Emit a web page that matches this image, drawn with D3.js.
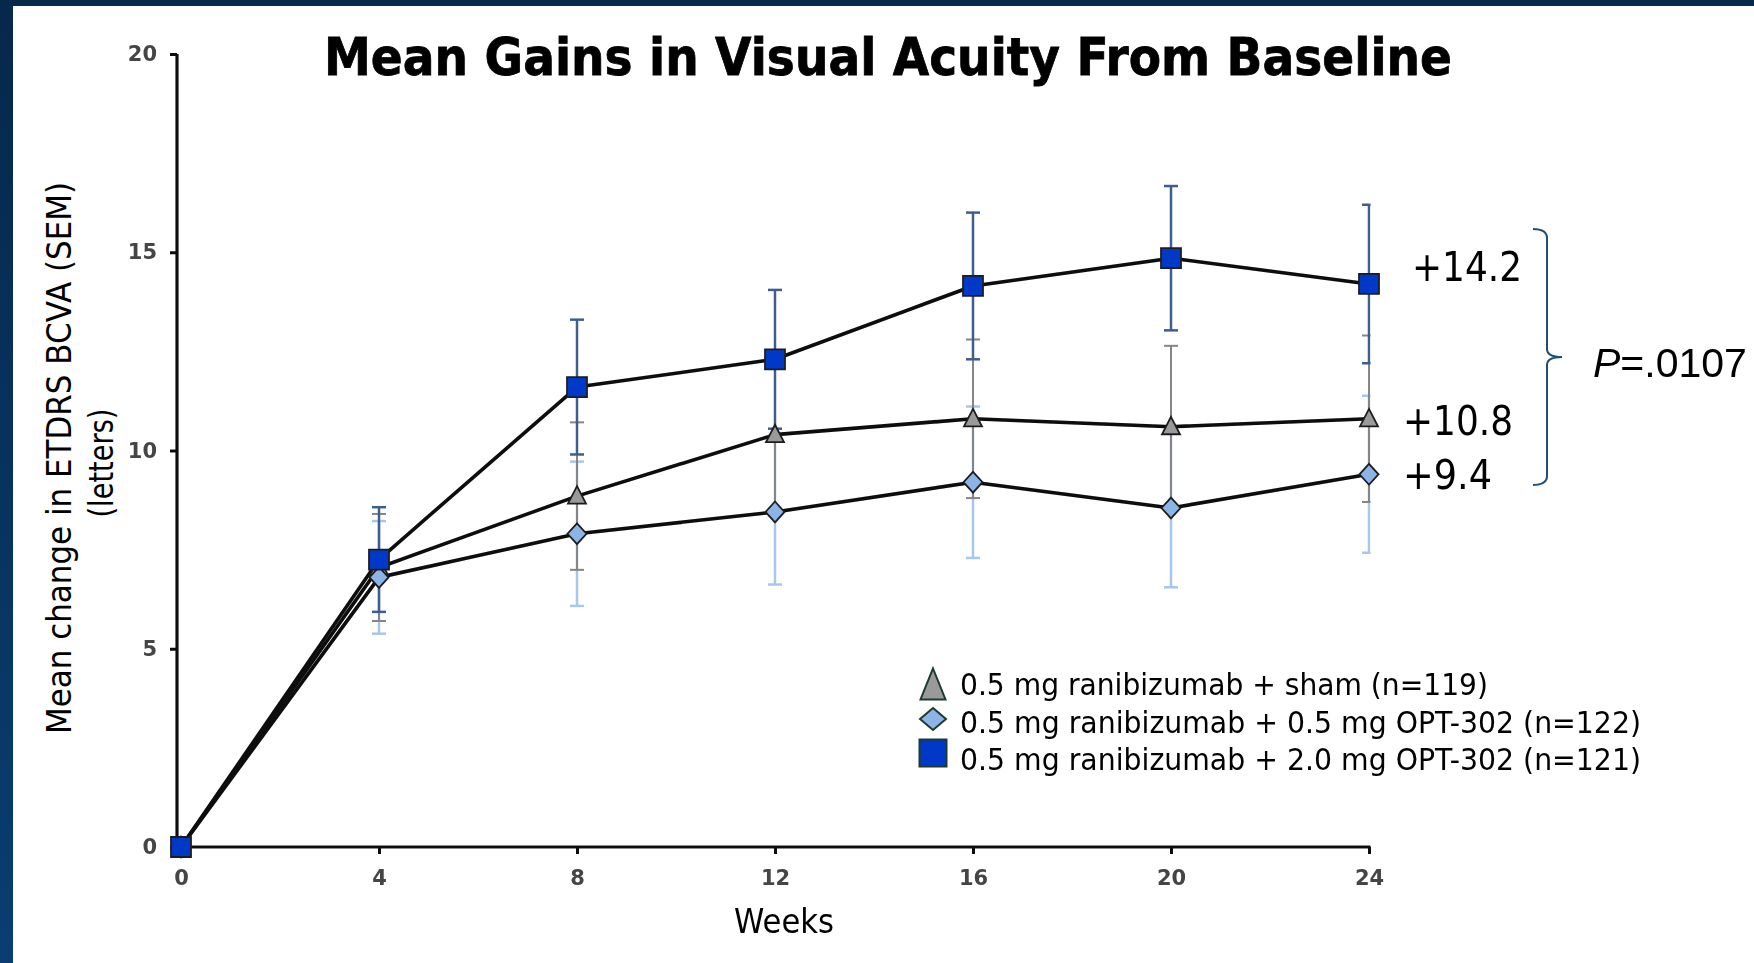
<!DOCTYPE html>
<html>
<head>
<meta charset="utf-8">
<script src="https://cdn.jsdelivr.net/npm/d3@7"></script>
<style>
  html, body { margin: 0; padding: 0; background: #fff; overflow: hidden; }
  svg { display: block; }
</style>
</head>
<body>
<svg id="chart" width="1754" height="963"></svg>
<script>
// ---- data -------------------------------------------------------------
const weeks = [0, 4, 8, 12, 16, 20, 24];
const yTicks = [0, 5, 10, 15, 20];

const seriesNames = [
  "0.5 mg ranibizumab + sham (n=119)",
  "0.5 mg ranibizumab + 0.5 mg OPT-302 (n=122)",
  "0.5 mg ranibizumab + 2.0 mg OPT-302 (n=121)"
];

// mean change in BCVA (letters) and SEM, per visit
const shamMean = [0, 7.05, 8.85, 10.4, 10.8, 10.6, 10.8];
const shamSem  = [0, 1.35, 1.86, 1.9, 2.0, 2.04, 2.1];
const lowMean  = [0, 6.8, 7.9, 8.45, 9.2, 8.55, 9.4];
const lowSem   = [0, 1.42, 1.82, 1.83, 1.91, 2.0, 1.98];
const highMean = [0, 7.25, 11.6, 12.3, 14.15, 14.85, 14.2];
const highSem  = [0, 1.32, 1.7, 1.75, 1.85, 1.82, 2.0];

const pValue = ".0107";

// ---- setup ------------------------------------------------------------
const W = 1754, H = 963;
const svg = d3.select("#chart");
const defs = svg.append("defs");

const grad = defs.append("linearGradient").attr("id", "edge")
  .attr("x1", 0).attr("y1", 0).attr("x2", 0).attr("y2", 1);
grad.append("stop").attr("offset", "0%").attr("stop-color", "#06284b");
grad.append("stop").attr("offset", "100%").attr("stop-color", "#0a3d72");

defs.append("filter").attr("id", "soft")
  .attr("filterUnits", "userSpaceOnUse")
  .attr("x", 0).attr("y", 0).attr("width", W).attr("height", H)
  .append("feGaussianBlur").attr("stdDeviation", 0.7);

svg.append("rect").attr("width", W).attr("height", H).attr("fill", "#fff");
svg.append("rect").attr("x", 0).attr("y", 0).attr("width", 13).attr("height", H).attr("fill", "url(#edge)");
svg.append("rect").attr("x", 0).attr("y", 0).attr("width", W).attr("height", 6).attr("fill", "#06284a");

const x = d3.scaleLinear().domain([0, 24]).range([181, 1369]);
const y = d3.scaleLinear().domain([0, 20]).range([847, 54]);
const yAxisX = x(0) - 4;

defs.append("clipPath").attr("id", "plotClip")
  .append("rect").attr("x", 0).attr("y", 0)
  .attr("width", x(24) + 1.5).attr("height", H);

const series = [
  { name: seriesNames[0], mean: shamMean, sem: shamSem, shape: "triangle",
    fill: "#9a9a9a", barColor: "#858585", barWidth: 2 },
  { name: seriesNames[1], mean: lowMean, sem: lowSem, shape: "diamond",
    fill: "#8db4e6", barColor: "#a8c7ee", barWidth: 2.5 },
  { name: seriesNames[2], mean: highMean, sem: highSem, shape: "square",
    fill: "#0039c8", barColor: "#3d5f8e", barWidth: 2.5 }
];

function markerPath(shape, s) {
  if (shape === "triangle") return `M0,${-s * 0.55}L${s * 0.5},${s * 0.42}L${-s * 0.5},${s * 0.42}Z`;
  if (shape === "diamond") return `M0,${-s * 0.55}L${s * 0.5},0L0,${s * 0.55}L${-s * 0.5},0Z`;
  return `M${-s / 2},${-s / 2}h${s}v${s}h${-s}Z`;
}

// ---- plot (slightly soft, like the rest of the figure) -----------------
const plot = svg.append("g").attr("filter", "url(#soft)");

// axes
const yAxis = d3.axisLeft(y).tickValues(yTicks).tickSize(7).tickPadding(13).tickSizeOuter(0);
const gy = plot.append("g").attr("transform", `translate(${yAxisX},0)`).call(yAxis);
gy.select(".domain").remove();
gy.selectAll(".tick line").attr("stroke", "#111").attr("stroke-width", 3);
gy.selectAll(".tick text")
  .attr("font-family", "'DejaVu Sans', sans-serif").attr("font-weight", "bold")
  .attr("font-size", 21).attr("fill", "#454545");

const xAxis = d3.axisBottom(x).tickValues(weeks).tickSize(7).tickPadding(16).tickSizeOuter(0);
const gx = plot.append("g").attr("transform", `translate(0,${y(0)})`).call(xAxis);
gx.select(".domain").remove();
gx.selectAll(".tick line").attr("stroke", "#111").attr("stroke-width", 3);
gx.selectAll(".tick text")
  .attr("font-family", "'DejaVu Sans', sans-serif").attr("font-weight", "bold")
  .attr("font-size", 21).attr("fill", "#454545");

plot.append("line")
  .attr("x1", yAxisX).attr("x2", yAxisX).attr("y1", y(0) + 1.5).attr("y2", y(20))
  .attr("stroke", "#111").attr("stroke-width", 3.2);
plot.append("line")
  .attr("x1", yAxisX - 1.5).attr("x2", x(24) + 1.5).attr("y1", y(0)).attr("y2", y(0))
  .attr("stroke", "#111").attr("stroke-width", 3.2);

// error bars: light blue, then gray, then dark blue on top
const bars = plot.append("g").attr("clip-path", "url(#plotClip)");
[series[1], series[0], series[2]].forEach(s => {
  const g = bars.append("g").attr("stroke", s.barColor).attr("stroke-width", s.barWidth);
  weeks.forEach((w, i) => {
    if (!s.sem[i]) return;
    const lo = y(s.mean[i] - s.sem[i]), hi = y(s.mean[i] + s.sem[i]), cx = x(w);
    g.append("line").attr("x1", cx).attr("x2", cx).attr("y1", lo).attr("y2", hi);
    g.append("line").attr("x1", cx - 7).attr("x2", cx + 7).attr("y1", lo).attr("y2", lo);
    g.append("line").attr("x1", cx - 7).attr("x2", cx + 7).attr("y1", hi).attr("y2", hi);
  });
});

// connecting lines
const line = d3.line().x((d, i) => x(weeks[i])).y(d => y(d));
series.forEach(s => {
  plot.append("path").attr("d", line(s.mean))
    .attr("fill", "none").attr("stroke", "#0a0a0a").attr("stroke-width", 3.6)
    .attr("stroke-linejoin", "round");
});

// markers
const markerSize = { triangle: 18, diamond: 19, square: 20 };
series.forEach(s => {
  plot.append("g").selectAll("path").data(s.mean).join("path")
    .attr("transform", (d, i) => `translate(${x(weeks[i])},${y(d)})`)
    .attr("d", markerPath(s.shape, markerSize[s.shape]))
    .attr("fill", s.fill).attr("stroke", "#1e1e1e").attr("stroke-width", 1.8);
});

// ---- text -------------------------------------------------------------
svg.append("text")
  .attr("x", 888).attr("y", 75).attr("text-anchor", "middle")
  .attr("font-family", "'DejaVu Sans', Verdana, sans-serif").attr("font-weight", "bold")
  .attr("font-size", 52).attr("fill", "#000").attr("stroke", "#000").attr("stroke-width", 0.8)
  .attr("textLength", 1128).attr("lengthAdjust", "spacingAndGlyphs")
  .text("Mean Gains in Visual Acuity From Baseline");

svg.append("text")
  .attr("transform", "translate(71,458) rotate(-90)").attr("text-anchor", "middle")
  .attr("font-family", "'DejaVu Sans', sans-serif").attr("font-size", 33).attr("fill", "#000")
  .attr("textLength", 552).attr("lengthAdjust", "spacingAndGlyphs")
  .text("Mean change in ETDRS BCVA (SEM)");
svg.append("text")
  .attr("transform", "translate(113,463) rotate(-90)").attr("text-anchor", "middle")
  .attr("font-family", "'DejaVu Sans', sans-serif").attr("font-size", 33).attr("fill", "#000")
  .attr("textLength", 109).attr("lengthAdjust", "spacingAndGlyphs")
  .text("(letters)");

svg.append("text")
  .attr("x", 784).attr("y", 933).attr("text-anchor", "middle")
  .attr("font-family", "'DejaVu Sans', sans-serif").attr("font-size", 33).attr("fill", "#000")
  .attr("textLength", 100).attr("lengthAdjust", "spacingAndGlyphs")
  .text("Weeks");

// end-of-study values
const last = weeks.length - 1;
const valueLabelLayout = [
  { s: series[2], dx: 43, dy: -3 },
  { s: series[0], dx: 34, dy: 16 },
  { s: series[1], dx: 34, dy: 15 }
];
valueLabelLayout.forEach(l => {
  svg.append("text")
    .attr("x", x(weeks[last]) + l.dx).attr("y", y(l.s.mean[last]) + l.dy)
    .attr("font-family", "'DejaVu Sans', sans-serif").attr("font-size", 40).attr("fill", "#000")
    .attr("textLength", l.s.mean[last] >= 10 ? 110 : 89).attr("lengthAdjust", "spacingAndGlyphs")
    .text("+" + l.s.mean[last].toFixed(1));
});

// bracket and p value
svg.append("path")
  .attr("d", "M1533,229 Q1547,229 1547,238 L1547,349 Q1547,357 1562,357 Q1547,357 1547,365 L1547,476 Q1547,485 1533,485")
  .attr("fill", "none").attr("stroke", "#1f4e79").attr("stroke-width", 2);

const pt = svg.append("text").attr("x", 1593).attr("y", 377)
  .attr("font-family", "'Liberation Sans', Arial, sans-serif").attr("font-size", 41).attr("fill", "#000");
pt.append("tspan").attr("font-style", "italic").text("P");
pt.append("tspan").text("=" + pValue);

// legend
const legendLayout = [
  { s: series[0], cy: 684, baseline: 695, len: 528, size: 30 },
  { s: series[1], cy: 719, baseline: 733, len: 681, size: 28 },
  { s: series[2], cy: 753, baseline: 770, len: 681, size: 27 }
];
const legend = svg.append("g");
legendLayout.forEach(l => {
  legend.append("path")
    .attr("transform", `translate(933,${l.cy})`)
    .attr("d", l.s.shape === "triangle"
      ? "M0,-15.5L12.5,15.5L-12.5,15.5Z"
      : l.s.shape === "diamond" ? "M0,-11L13,0L0,11L-13,0Z" : markerPath("square", l.size))
    .attr("fill", l.s.fill).attr("stroke", "#1d3a2e").attr("stroke-width", 2);
  legend.append("text")
    .attr("x", 960).attr("y", l.baseline)
    .attr("font-family", "'DejaVu Sans', sans-serif").attr("font-size", 30).attr("fill", "#000")
    .attr("textLength", l.len).attr("lengthAdjust", "spacingAndGlyphs")
    .text(l.s.name);
});
</script>
</body>
</html>
